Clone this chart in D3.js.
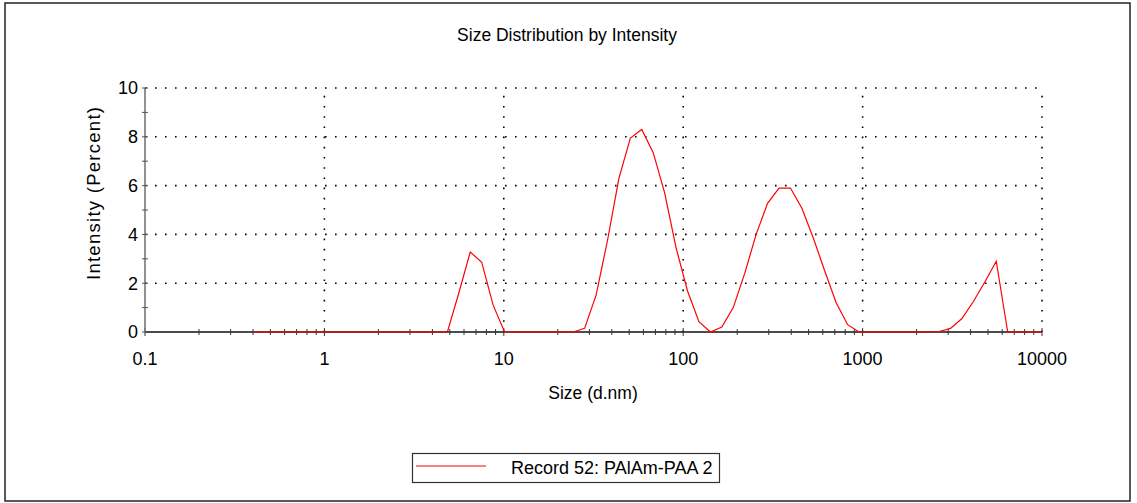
<!DOCTYPE html>
<html>
<head>
<meta charset="utf-8">
<script src="https://cdn.jsdelivr.net/npm/d3@7"></script>
<style>
  html, body { margin: 0; padding: 0; background: #fff; }
  svg { display: block; font-family: "Liberation Sans", Arial, sans-serif; }
</style>
</head>
<body>
<svg id="chart" width="1137" height="503"></svg>
<script>
// ---- data ----
const sizes = [0.4, 0.4632, 0.5365, 0.6213, 0.7195, 0.8332, 0.965, 1.117, 1.294, 1.499,
  1.736, 2.01, 2.328, 2.696, 3.122, 3.615, 4.187, 4.849, 5.615, 6.503,
  7.531, 8.721, 10.1, 11.7, 13.54, 15.69, 18.17, 21.04, 24.36, 28.21,
  32.67, 37.84, 43.82, 50.75, 58.77, 68.06, 78.82, 91.28, 105.7, 122.4,
  141.8, 164.2, 190.1, 220.2, 255.0, 295.3, 342.0, 396.1, 458.7, 531.2,
  615.1, 712.4, 825.0, 955.4, 1106, 1281, 1484, 1718, 1990, 2305,
  2669, 3091, 3580, 4145, 4801, 5560, 6439, 7456, 8635, 10000];
const intensity = [0, 0, 0, 0, 0, 0, 0, 0, 0, 0,
  0, 0, 0, 0, 0, 0, 0, 0, 1.6, 3.28,
  2.86, 1.1, 0, 0, 0, 0, 0, 0, 0, 0.15,
  1.5, 3.75, 6.3, 7.95, 8.3, 7.35, 5.7, 3.45, 1.68, 0.42,
  0, 0.2, 1.0, 2.4, 4.0, 5.27, 5.9, 5.9, 5.07, 3.85,
  2.5, 1.2, 0.3, 0, 0, 0, 0, 0, 0, 0,
  0.02, 0.15, 0.55, 1.25, 2.05, 2.9, 0, 0, 0, 0];
const xMajorTicks = [0.1, 1, 10, 100, 1000, 10000];
const xTickLabels = ["0.1", "1", "10", "100", "1000", "10000"];
const yMajorTicks = [0, 2, 4, 6, 8, 10];
const yMinorTicks = [1, 3, 5, 7, 9];
const seriesName = "Record 52: PAlAm-PAA 2";
const titleText = "Size Distribution by Intensity";
const xTitle = "Size (d.nm)";
const yTitle = "Intensity (Percent)";

// ---- layout ----
const svg = d3.select("#chart");
const x = d3.scaleLog().domain([0.1, 10000]).range([145, 1042]);
const y = d3.scaleLinear().domain([0, 10]).range([332, 88]);

// outer frame
svg.append("rect").attr("x", 5).attr("y", 3).attr("width", 1125).attr("height", 498)
  .attr("fill", "none").attr("stroke", "#222").attr("stroke-width", 1.5);

// title
svg.append("text").attr("x", 567).attr("y", 41).attr("text-anchor", "middle")
  .attr("font-size", 17.5).attr("fill", "#000").text(titleText);

// gridlines
const grid = svg.append("g");
grid.selectAll("line.h").data(yMajorTicks.filter(d => d > 0)).join("line")
  .attr("x1", x(0.1)).attr("x2", x(10000))
  .attr("y1", d => y(d)).attr("y2", d => y(d))
  .attr("stroke", "#000").attr("stroke-width", 1.6).attr("stroke-dasharray", "1.6,8.4");
grid.selectAll("line.v").data(xMajorTicks.filter(d => d > 0.1)).join("line")
  .attr("x1", d => x(d)).attr("x2", d => x(d))
  .attr("y1", y(0)).attr("y2", y(10))
  .attr("stroke", "#000").attr("stroke-width", 1.6).attr("stroke-dasharray", "1.6,8.6");

// x axis
const xMinor = [];
for (let k = -1; k < 4; k++) for (let m = 2; m <= 9; m++) xMinor.push(m * Math.pow(10, k));
const xAxisG = svg.append("g").attr("transform", `translate(0,${y(0)})`);
xAxisG.append("line").attr("x1", x(0.1)).attr("x2", x(10000)).attr("stroke", "#111").attr("stroke-width", 1.3);
xAxisG.selectAll("line.mn").data(xMinor).join("line").attr("class", "mn")
  .attr("x1", d => x(d)).attr("x2", d => x(d)).attr("y1", -3).attr("y2", 3)
  .attr("stroke", "#333").attr("stroke-width", 1);
xAxisG.selectAll("line.mj").data(xMajorTicks).join("line").attr("class", "mj")
  .attr("x1", d => x(d)).attr("x2", d => x(d)).attr("y1", -4).attr("y2", 4)
  .attr("stroke", "#333").attr("stroke-width", 1);
xAxisG.selectAll("text").data(xMajorTicks).join("text")
  .attr("x", d => x(d)).attr("y", 33).attr("text-anchor", "middle")
  .attr("font-size", 18).attr("fill", "#000").text((d, i) => xTickLabels[i]);

// y axis
const yAxisG = svg.append("g").attr("transform", `translate(${x(0.1)},0)`);
yAxisG.append("line").attr("y1", y(0)).attr("y2", y(10)).attr("stroke", "#777").attr("stroke-width", 1.6);
yAxisG.selectAll("line.t").data(yMajorTicks.concat(yMinorTicks)).join("line").attr("class", "t")
  .attr("x1", -3).attr("x2", 3).attr("y1", d => y(d)).attr("y2", d => y(d))
  .attr("stroke", "#555").attr("stroke-width", 1);
yAxisG.selectAll("text").data(yMajorTicks).join("text")
  .attr("x", -7).attr("y", d => y(d)).attr("dy", "0.36em").attr("text-anchor", "end")
  .attr("font-size", 18).attr("fill", "#000").text(d => d);

// axis titles
svg.append("text").attr("x", 593).attr("y", 399).attr("text-anchor", "middle")
  .attr("font-size", 17.5).attr("fill", "#000").text(xTitle);
svg.append("text").attr("transform", "translate(100,193.5) rotate(-90)").attr("text-anchor", "middle")
  .attr("font-size", 18.5).attr("textLength", 173).attr("lengthAdjust", "spacing")
  .attr("fill", "#000").text(yTitle);

// series line
const line = d3.line().x((d, i) => x(sizes[i])).y(d => y(d));
svg.append("path").datum(intensity).attr("d", line)
  .attr("fill", "none").attr("stroke", "#ff0000").attr("stroke-width", 1.2);

// legend
const lg = svg.append("g");
lg.append("rect").attr("x", 412.5).attr("y", 453.5).attr("width", 307).attr("height", 29)
  .attr("fill", "#fff").attr("stroke", "#333").attr("stroke-width", 1.2);
lg.append("line").attr("x1", 416).attr("x2", 486).attr("y1", 466).attr("y2", 466)
  .attr("stroke", "#ff0000").attr("stroke-width", 1.2);
lg.append("text").attr("x", 511).attr("y", 474).attr("font-size", 18).attr("fill", "#000").text(seriesName);
</script>
</body>
</html>
